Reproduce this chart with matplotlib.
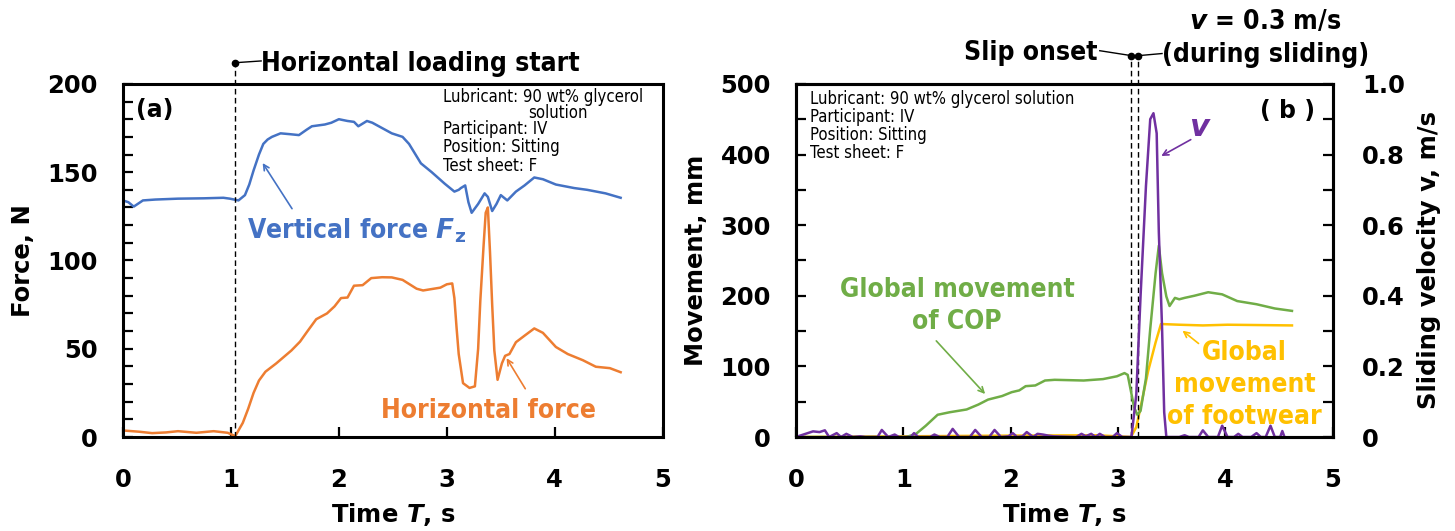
import matplotlib
matplotlib.use('Agg')
from matplotlib import pyplot as plt
from matplotlib.ticker import MultipleLocator
import numpy as np

plt.rcParams['font.family'] = 'DejaVu Sans'
plt.rcParams['mathtext.fontset'] = 'dejavusans'

BLUE = '#4472C4'
ORANGE = '#ED7D31'
GREEN = '#70AD47'
YELLOW = '#FFC000'
PURPLE = '#7030A0'

# ---- (a) forces ----
fz_t = [0.0, 0.05, 0.10, 0.185, 0.30, 0.51, 0.75, 0.93, 0.99, 1.07, 1.13, 1.17, 1.21, 1.26, 1.30,
        1.34, 1.38, 1.46, 1.55, 1.63, 1.70, 1.75, 1.87, 1.93, 2.0, 2.08, 2.14, 2.18, 2.26, 2.31,
        2.37, 2.49, 2.59, 2.65, 2.71, 2.76, 2.86, 2.98, 3.07, 3.11, 3.13, 3.17, 3.20, 3.23, 3.29,
        3.35, 3.38, 3.42, 3.46, 3.50, 3.56, 3.64, 3.72, 3.81, 3.89, 4.01, 4.18, 4.30, 4.47, 4.61]
fz = [134, 133, 130.5, 134, 134.5, 135, 135.2, 135.5, 135, 134, 137, 143, 151, 160, 166,
      168.5, 170, 172, 171.5, 171, 174, 176, 177, 178, 180, 179, 178.5, 176, 179, 178,
      176, 172, 170, 166, 160, 155, 150, 143.5, 139, 140, 141, 142.5, 133, 127, 132,
      138, 136, 128, 132, 137, 134, 139, 142.5, 147, 146, 143, 141, 140, 138, 135.5]

fh_t = [0.0, 0.15, 0.27, 0.40, 0.51, 0.68, 0.84, 0.97, 1.04, 1.11, 1.16, 1.21, 1.26, 1.32, 1.42,
        1.56, 1.64, 1.71, 1.79, 1.89, 1.96, 2.02, 2.08, 2.14, 2.22, 2.30, 2.40, 2.49, 2.59, 2.72,
        2.78, 2.94, 3.00, 3.05, 3.07, 3.09, 3.11, 3.15, 3.21, 3.26, 3.29, 3.31, 3.34, 3.36, 3.38,
        3.40, 3.42, 3.44, 3.47, 3.51, 3.54, 3.58, 3.64, 3.72, 3.81, 3.89, 4.01, 4.12, 4.26, 4.38,
        4.51, 4.61]
fh = [3.7, 3.0, 2.2, 2.6, 3.3, 2.4, 3.3, 2.4, 0.5, 8, 16, 25, 32, 37, 41.7,
      49, 54, 60, 66.7, 70, 74, 78.7, 79, 85.7, 86, 90, 90.5, 90.4, 89, 84,
      83, 84.6, 86.5, 87, 78.7, 62, 47, 30.5, 27.8, 28.7, 50, 77, 108, 127, 130,
      104.6, 75, 49, 32.4, 41.7, 46, 47, 53.7, 57.4, 61.5, 59, 51, 47, 43.5, 39.8,
      39, 36.7]

# ---- (b) movements and sliding velocity ----
cop_t = [0.0, 1.03, 1.12, 1.21, 1.32, 1.43, 1.59, 1.70, 1.79, 1.92, 2.01, 2.08, 2.14, 2.23, 2.32,
         2.41, 2.68, 2.86, 2.99, 3.06, 3.09, 3.12, 3.15, 3.18, 3.21, 3.26, 3.30, 3.35, 3.38, 3.41,
         3.45, 3.48, 3.53, 3.57, 3.62, 3.71, 3.84, 3.97, 4.11, 4.29, 4.46, 4.62]
cop = [0, 0, 4.6, 16, 31.5, 35, 39, 46, 53, 58, 63.5, 66, 72, 73, 80,
       81, 80, 82, 86, 90.5, 88, 65, 42, 31.5, 37, 83, 153, 232, 271, 232,
       199, 185.5, 197, 195, 197, 200, 205, 202, 192.5, 188, 182, 178.6]

shoe_t = [0.0, 1.0, 2.0, 2.8, 3.12, 3.17, 3.21, 3.28, 3.35, 3.40, 3.57, 3.79, 4.02, 4.62]
shoe = [0, 1, 2, 2.5, 0, 14, 42, 93, 134, 160, 159, 158, 159, 158]

vel_t = [0.0, 0.11, 0.16, 0.22, 0.27, 0.31, 0.38, 0.42, 0.47, 0.53, 0.60, 0.65, 0.76, 0.80, 0.86,
         0.92, 0.96, 1.07, 1.10, 1.14, 1.25, 1.29, 1.34, 1.41, 1.46, 1.52, 1.62, 1.67, 1.73, 1.80,
         1.85, 1.91, 1.98, 2.02, 2.06, 2.11, 2.15, 2.21, 2.25, 2.30, 2.35, 2.40, 2.61, 2.66, 2.70,
         2.75, 2.79, 2.83, 2.88, 2.95, 2.99, 3.04, 3.125, 3.17, 3.21, 3.26, 3.30, 3.33, 3.36, 3.38,
         3.41, 3.43, 3.45, 3.57, 3.62, 3.66, 3.75, 3.79, 3.84, 3.93, 3.97, 4.02, 4.08, 4.12, 4.16,
         4.24, 4.29, 4.33, 4.375, 4.42, 4.46, 4.51, 4.53, 4.55]
vel = [0, 0.011, 0.016, 0.014, 0.019, 0, 0.011, 0, 0.009, 0, 0.002, 0, 0, 0.020, 0,
       0.007, 0, 0, 0.011, 0, 0, 0.007, 0, 0, 0.023, 0, 0, 0.020, 0, 0,
       0.020, 0, 0.002, 0.011, 0, 0.002, 0.014, 0, 0.009, 0.007, 0.004, 0.002, 0, 0.009, 0.002,
       0.009, 0, 0.009, 0, 0, 0.011, 0, 0, 0.12, 0.40, 0.71, 0.90, 0.917, 0.86, 0.58,
       0.31, 0.07, 0, 0, 0.005, 0, 0, 0.019, 0, 0, 0.032, 0, 0, 0.009, 0,
       0, 0.011, 0, 0, 0.032, 0, 0, 0.017, 0]

fig = plt.figure(figsize=(14.55, 5.31), dpi=100)
ax1 = fig.add_axes([0.0845, 0.177, 0.371, 0.665])
ax2 = fig.add_axes([0.547, 0.177, 0.369, 0.665])
ax3 = ax2.twinx()

lab_font = dict(fontsize=17.5, fontweight='bold')
note_font = dict(fontsize=12, fontstretch='condensed', color='black')
big_font = dict(fontsize=19, fontstretch='condensed', fontweight='bold')


def style_axis(ax):
    for sp in ax.spines.values():
        sp.set_linewidth(2.2)
    ax.tick_params(direction='in', width=1.6, length=7, which='both')
    ax.tick_params(axis='y', pad=18)
    ax.tick_params(axis='x', pad=22)


# ----- panel (a) -----
ax1.plot(fz_t, fz, color=BLUE, lw=1.8)
ax1.plot(fh_t, fh, color=ORANGE, lw=1.8)
ax1.set_xlim(0, 5)
ax1.set_ylim(0, 200)
ax1.set_xticks(range(6))
ax1.set_yticks(range(0, 201, 50))
ax1.yaxis.set_minor_locator(MultipleLocator(10))
style_axis(ax1)
for lbl in ax1.get_xticklabels() + ax1.get_yticklabels():
    lbl.set_fontsize(17.5)
    lbl.set_fontweight('bold')
ax1.set_ylabel('Force, N', labelpad=9, **lab_font)
ax1.set_xlabel('Time $\\mathbfit{T}$, s', labelpad=7, **lab_font)

ax1.axvline(1.04, ymin=0, ymax=1.065, color='black', lw=1.0, ls=(0, (4, 2.5)), clip_on=False)
ax1.plot([1.04], [212], 'o', color='black', ms=4.5, clip_on=False)
ax1.plot([1.04, 1.28], [212, 213], color='black', lw=1.0, clip_on=False)
ax1.text(1.28, 211, 'Horizontal loading start', ha='left', va='center', **big_font)

ax1.text(0.12, 185, '(a)', ha='left', va='center', fontsize=17, fontweight='bold')
ax1.text(2.96, 197.5, 'Lubricant: 90 wt% glycerol', ha='left', va='top', **note_font)
ax1.text(4.03, 188.5, 'solution', ha='center', va='top', **note_font)
ax1.text(2.96, 179.5, 'Participant: IV\nPosition: Sitting\nTest sheet: F', ha='left', va='top',
         linespacing=1.02, **note_font)

ax1.text(1.15, 117, 'Vertical force $\\mathbfit{F}_{\\mathbf{z}}$', ha='left', va='center',
         color=BLUE, **big_font)
ax1.annotate('', xy=(1.28, 156.5), xytext=(1.58, 128),
             arrowprops=dict(arrowstyle='->', color=BLUE, lw=1.2))
ax1.text(2.39, 14.5, 'Horizontal force', ha='left', va='center', color=ORANGE, **big_font)
ax1.annotate('', xy=(3.54, 46), xytext=(3.74, 26),
             arrowprops=dict(arrowstyle='->', color=ORANGE, lw=1.2))

# ----- panel (b) -----
ax2.plot(cop_t, cop, color=GREEN, lw=1.8, zorder=3)
ax2.plot(shoe_t, shoe, color=YELLOW, lw=1.8, zorder=2)
ax3.plot(vel_t, vel, color=PURPLE, lw=1.8)
ax2.set_xlim(0, 5)
ax2.set_ylim(0, 500)
ax3.set_ylim(0, 1.0)
ax2.set_xticks(range(6))
ax2.set_yticks(range(0, 501, 100))
ax2.yaxis.set_minor_locator(MultipleLocator(50))
ax3.set_yticks([0, 0.2, 0.4, 0.6, 0.8, 1.0])
ax3.set_yticklabels(['0', '0.2', '0.4', '0.6', '0.8', '1.0'])
ax3.yaxis.set_minor_locator(MultipleLocator(0.1))
style_axis(ax2)
style_axis(ax3)
ax3.tick_params(axis='y', pad=21)
ax2.tick_params(right=False, which='both')
for lbl in ax2.get_xticklabels() + ax2.get_yticklabels() + ax3.get_yticklabels():
    lbl.set_fontsize(17.5)
    lbl.set_fontweight('bold')
ax2.set_ylabel('Movement, mm', labelpad=9, **lab_font)
ax3.set_ylabel('Sliding velocity v, m/s', labelpad=9, **lab_font)
ax2.set_xlabel('Time $\\mathbfit{T}$, s', labelpad=7, **lab_font)

for xs, ys in [(3.125, 540), (3.19, 540)]:
    ax2.plot([xs, xs], [0, ys], color='black', lw=1.0, ls=(0, (4, 2.5)), clip_on=False)
    ax2.plot([xs], [ys], 'o', color='black', ms=4.5, clip_on=False)
ax2.plot([2.83, 3.125], [547, 540], color='black', lw=1.0, clip_on=False)
ax2.plot([3.19, 3.41], [540, 543], color='black', lw=1.0, clip_on=False)
ax2.text(2.81, 544, 'Slip onset', ha='right', va='center', **big_font)
ax2.text(3.41, 541, '(during sliding)', ha='left', va='center', **big_font)
ax2.text(4.375, 588, '$\\mathbfit{v}$ = 0.3 m/s', ha='center', va='center', **big_font)

ax2.text(0.13, 492, 'Lubricant: 90 wt% glycerol solution\nParticipant: IV\nPosition: Sitting\nTest sheet: F',
         ha='left', va='top', linespacing=1.02, **note_font)
ax2.text(4.58, 461, '( b )', ha='center', va='center', fontsize=17, fontweight='bold')

ax2.text(3.77, 438, '$\\mathbfit{v}$', ha='center', va='center', color=PURPLE, fontsize=22)
ax2.annotate('', xy=(3.38, 396), xytext=(3.70, 423),
             arrowprops=dict(arrowstyle='->', color=PURPLE, lw=1.2))

ax2.text(1.50, 185, 'Global movement\nof COP', ha='center', va='center', color=GREEN,
         linespacing=1.3, **big_font)
ax2.annotate('', xy=(1.78, 58), xytext=(1.29, 139),
             arrowprops=dict(arrowstyle='->', color=GREEN, lw=1.2))

ax2.text(4.18, 74, 'Global\nmovement\nof footwear', ha='center', va='center', color=YELLOW,
         linespacing=1.3, **big_font)
ax2.annotate('', xy=(3.58, 153), xytext=(3.77, 130),
             arrowprops=dict(arrowstyle='->', color=YELLOW, lw=1.2))

fig.savefig('out.png', dpi=100)
